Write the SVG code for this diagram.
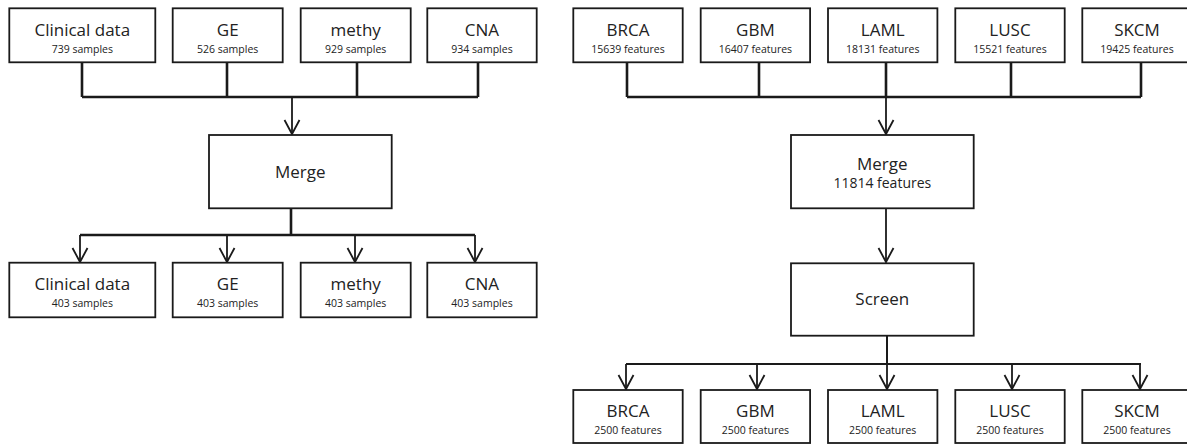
<svg xmlns="http://www.w3.org/2000/svg" width="1187" height="444" viewBox="0 0 1187 444">
<style>
.box{fill:#fff;stroke:#1a1a1a;stroke-width:1.8}
.t{font-family:"Open Sans","Liberation Sans",sans-serif;font-size:17px;fill:#222;text-anchor:middle}
.s{font-family:"Open Sans","Liberation Sans",sans-serif;font-size:10.5px;fill:#222;text-anchor:middle}
.bus{fill:none;stroke:#1a1a1a;stroke-width:2.6}
.arr{fill:none;stroke:#1a1a1a;stroke-width:1.8}
</style>
<defs>
<marker id="ah" viewBox="-16 -10 18 20" markerWidth="18" markerHeight="20" refX="0" refY="0" orient="auto" markerUnits="userSpaceOnUse">
<path d="M-14,-7.5 L0,0 L-14,7.5" fill="none" stroke="#1a1a1a" stroke-width="1.8"/>
</marker>
</defs>
<rect width="1187" height="444" fill="#fff"/>
<g id="connectors">
<path class="bus" d="M82,62 V97 M227,62 V97 M357,62 V97 M478,62 V97 M82,97 H478"/>
<path class="arr" d="M292,97 V134" marker-end="url(#ah)"/>
<path class="bus" d="M291,208 V235 M80,235 H475"/>
<path class="arr" d="M80,235 V262" marker-end="url(#ah)"/>
<path class="arr" d="M227,235 V262" marker-end="url(#ah)"/>
<path class="arr" d="M355,235 V262" marker-end="url(#ah)"/>
<path class="arr" d="M475,235 V262" marker-end="url(#ah)"/>
<path class="bus" d="M627,62 V97 M759,62 V97 M886,62 V97 M1011,62 V97 M1141,62 V97 M627,97 H1141"/>
<path class="arr" d="M886,97 V134" marker-end="url(#ah)"/>
<path class="arr" d="M886,208 V262" marker-end="url(#ah)"/>
<path class="bus" d="M887,336 V364 M626,364 H1141" style="stroke-width:2"/>
<path class="arr" d="M626,364 V389" marker-end="url(#ah)"/>
<path class="arr" d="M757,364 V389" marker-end="url(#ah)"/>
<path class="arr" d="M887,364 V389" marker-end="url(#ah)"/>
<path class="arr" d="M1012,364 V389" marker-end="url(#ah)"/>
<path class="arr" d="M1140,364 V389" marker-end="url(#ah)"/>
</g>
<g id="l-clinical"><rect class="box" x="9.3" y="8.3" width="146" height="54"/><text class="t" x="82.3" y="35.5">Clinical data</text><text class="s" x="82.3" y="53">739 samples</text></g>
<g id="l-ge"><rect class="box" x="172.7" y="8.3" width="110" height="54"/><text class="t" x="227.7" y="35.5">GE</text><text class="s" x="227.7" y="53">526 samples</text></g>
<g id="l-methy"><rect class="box" x="300.7" y="8.3" width="110" height="54"/><text class="t" x="355.7" y="35.5">methy</text><text class="s" x="355.7" y="53">929 samples</text></g>
<g id="l-cna"><rect class="box" x="427.3" y="8.3" width="109.4" height="54"/><text class="t" x="482" y="35.5">CNA</text><text class="s" x="482" y="53">934 samples</text></g>
<g id="l-merge"><rect class="box" x="209" y="135" width="182.7" height="73.3"/><text class="t" x="300.3" y="178">Merge</text></g>
<g id="l-clinical2"><rect class="box" x="9.3" y="262.7" width="146" height="54.6"/><text class="t" x="82.3" y="290">Clinical data</text><text class="s" x="82.3" y="306.5">403 samples</text></g>
<g id="l-ge2"><rect class="box" x="172.7" y="262.7" width="110" height="54.6"/><text class="t" x="227.7" y="290">GE</text><text class="s" x="227.7" y="306.5">403 samples</text></g>
<g id="l-methy2"><rect class="box" x="300.7" y="262.7" width="110" height="54.6"/><text class="t" x="355.7" y="290">methy</text><text class="s" x="355.7" y="306.5">403 samples</text></g>
<g id="l-cna2"><rect class="box" x="427.3" y="262.7" width="109.4" height="54.6"/><text class="t" x="482" y="290">CNA</text><text class="s" x="482" y="306.5">403 samples</text></g>
<g id="r-brca"><rect class="box" x="573.3" y="8.3" width="109.4" height="54"/><text class="t" x="628" y="35.5">BRCA</text><text class="s" x="628" y="53">15639 features</text></g>
<g id="r-gbm"><rect class="box" x="700.7" y="8.3" width="109.4" height="54"/><text class="t" x="755.4" y="35.5">GBM</text><text class="s" x="755.4" y="53">16407 features</text></g>
<g id="r-laml"><rect class="box" x="828" y="8.3" width="109.4" height="54"/><text class="t" x="882.7" y="35.5">LAML</text><text class="s" x="882.7" y="53">18131 features</text></g>
<g id="r-lusc"><rect class="box" x="955.3" y="8.3" width="109.4" height="54"/><text class="t" x="1010" y="35.5">LUSC</text><text class="s" x="1010" y="53">15521 features</text></g>
<g id="r-skcm"><rect class="box" x="1082.3" y="8.3" width="109.4" height="54"/><text class="t" x="1137" y="35.5">SKCM</text><text class="s" x="1137" y="53">19425 features</text></g>
<g id="r-merge"><rect class="box" x="791" y="135" width="182.7" height="73.3"/><text class="t" x="882.3" y="170">Merge</text><text class="s" x="882.3" y="188.3" style="font-size:14px">11814 features</text></g>
<g id="r-screen"><rect class="box" x="791" y="263.3" width="182.7" height="72.4"/><text class="t" x="882.3" y="305">Screen</text></g>
<g id="r-brca2"><rect class="box" x="573.3" y="390" width="109.4" height="53"/><text class="t" x="628" y="416.7">BRCA</text><text class="s" x="628" y="434">2500 features</text></g>
<g id="r-gbm2"><rect class="box" x="700.7" y="390" width="109.4" height="53"/><text class="t" x="755.4" y="416.7">GBM</text><text class="s" x="755.4" y="434">2500 features</text></g>
<g id="r-laml2"><rect class="box" x="828" y="390" width="109.4" height="53"/><text class="t" x="882.7" y="416.7">LAML</text><text class="s" x="882.7" y="434">2500 features</text></g>
<g id="r-lusc2"><rect class="box" x="955.3" y="390" width="109.4" height="53"/><text class="t" x="1010" y="416.7">LUSC</text><text class="s" x="1010" y="434">2500 features</text></g>
<g id="r-skcm2"><rect class="box" x="1082.3" y="390" width="109.4" height="53"/><text class="t" x="1137" y="416.7">SKCM</text><text class="s" x="1137" y="434">2500 features</text></g>
</svg>
